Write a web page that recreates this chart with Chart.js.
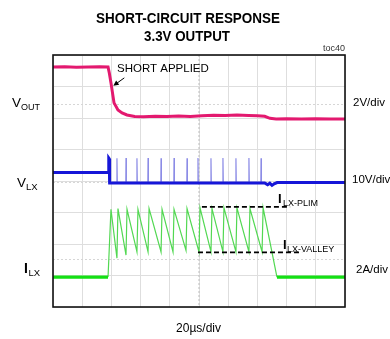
<!DOCTYPE html>
<html lang="en">
<head>
  <meta charset="UTF-8">
  <title>Short-Circuit Response</title>
  <script src="https://cdn.jsdelivr.net/npm/chart.js"></script>
  <style>
    body { margin: 0; background: #fff; }
    #scope { display: block; }
  </style>
</head>
<body>
  <canvas id="scope" width="390" height="339"></canvas>
  <script>
    // scope screen: 10 x 8 divisions, 20us/div
    const usPerDiv = 20;
    const timeDivs = 10;
    const vertDivs = 8;

    // VOUT (us, V)
    const voutTime  = [0, 8, 16, 24, 32, 37.7, 38.6, 39.7, 41.8, 44.5, 47.3, 50.7, 56, 62, 70, 78, 86, 94, 102, 110, 118, 126, 134, 140, 145, 148.6, 152.8, 160, 170, 180, 190, 200];
    const voutVolts = [3.30, 3.31, 3.29, 3.30, 3.31, 3.30, 2.90, 2.29, 1.02, 0.57, 0.38, 0.25, 0.16, 0.14, 0.17, 0.15, 0.18, 0.16, 0.20, 0.24, 0.22, 0.25, 0.22, 0.20, 0.17, 0.04, 0.0, 0.02, -0.01, 0.01, 0.0, 0.0];

    // LX node (us, V)
    const lxTime  = [0, 10, 20, 30, 37.8, 38.2, 38.5, 38.8, 50, 70, 90, 110, 130, 145, 147, 148.5, 150, 151.5, 153.5, 160, 180, 200];
    const lxVolts = [3.0, 3.0, 3.0, 3.0, 3.0, 7.6, 7.4, -0.3, -0.3, -0.3, -0.3, -0.3, -0.3, -0.3, -0.9, -0.4, -1.1, -0.6, -0.2, -0.2, -0.2, -0.2];
    const spikeTimes = [38.4, 43.8, 50.0, 57.5, 65.1, 74.0, 82.9, 91.8, 99.3, 108.2, 116.4, 125.3, 134.2, 142.5];
    const spikeTops  = [7.6, 7.5, 7.6, 7.5, 7.6, 7.5, 7.6, 7.5, 7.6, 7.5, 7.6, 7.5, 7.6, 7.5];
    const lxLow = -0.3;

    // inductor current (us, A)
    const shortStart = 37.7;
    const currentEnd = 153.4;
    const peakTimes  = [39.7, 44.5, 50.7, 58.2, 65.8, 74.7, 82.9, 91.8, 100.7, 108.9, 117.1, 126.0, 134.9, 143.9];
    const peakAmps   = [4.3, 4.35, 4.3, 4.3, 4.35, 4.3, 4.3, 4.35, 4.4, 4.35, 4.4, 4.4, 4.35, 4.4];
    const valleyAmps = [1.2, 1.4, 1.6, 1.6, 1.6, 1.6, 1.7, 1.6, 1.6, 1.6, 1.6, 1.6, 1.6];

    // current limit markers
    const plimLevel = 4.46;
    const plimSpan = [102, 162.4];
    const valleyLevel = 1.57;
    const valleySpan = [99.3, 170.6];

    // channel settings: units/div and ground position in divs from bottom
    const voutCh = { perDiv: 2, ground: 5.97 };
    const lxCh = { perDiv: 10, ground: 3.97 };
    const ilxCh = { perDiv: 2, ground: 0.95 };
    const refMarks = [6.45, 3.97, 1.52];

    const chRange = ch => ({ min: -ch.ground * ch.perDiv, max: (vertDivs - ch.ground) * ch.perDiv });
    const pts = (xs, ys) => xs.map((x, i) => ({ x: x, y: ys[i] }));

    // thin switching spikes on LX
    const spikeData = [];
    spikeTimes.forEach((t, i) => {
      spikeData.push({ x: t - 0.15, y: lxLow }, { x: t, y: spikeTops[i] }, { x: t + 0.25, y: lxLow });
    });

    // sawtooth between peak and valley during current limit
    const sawData = [{ x: shortStart, y: 0 }];
    peakTimes.forEach((t, i) => {
      sawData.push({ x: t, y: peakAmps[i] });
      if (i < valleyAmps.length) sawData.push({ x: peakTimes[i + 1] - 0.7, y: valleyAmps[i] });
    });
    sawData.push({ x: currentEnd, y: 0 });

    const offData = [{ x: 0, y: 0 }, { x: shortStart, y: 0 }, { x: shortStart, y: null },
                     { x: currentEnd, y: 0 }, { x: timeDivs * usPerDiv, y: 0 }];

    const FONT = "'Liberation Sans', Arial, sans-serif";

    function text(ctx, s, x, y, font, align, color, maxW) {
      ctx.font = font;
      ctx.textAlign = align || 'left';
      ctx.fillStyle = color || '#000';
      ctx.textBaseline = 'alphabetic';
      if (maxW) ctx.fillText(s, x, y, maxW);
      else ctx.fillText(s, x, y);
    }

    const screenDecor = {
      id: 'screenDecor',
      beforeDatasetsDraw(chart) {
        const { ctx, chartArea: a, scales } = chart;
        ctx.save();
        // center crosshair and channel markers
        ctx.strokeStyle = '#bdbdbd';
        ctx.lineWidth = 1;
        ctx.setLineDash([2, 2]);
        const cx = scales.x.getPixelForValue(timeDivs * usPerDiv / 2);
        ctx.beginPath();
        ctx.moveTo(cx, a.top); ctx.lineTo(cx, a.bottom);
        ctx.stroke();
        ctx.strokeStyle = '#d6d6d6';
        refMarks.forEach(d => {
          const y = Math.round(scales.grid.getPixelForValue(d)) + 0.5;
          ctx.beginPath();
          ctx.moveTo(a.left, y); ctx.lineTo(a.right, y);
          ctx.stroke();
        });
        ctx.restore();
      },
      afterDraw(chart) {
        const { ctx, chartArea: a, scales } = chart;
        ctx.save();
        ctx.strokeStyle = '#111';
        ctx.lineWidth = 1.6;
        ctx.strokeRect(a.left, a.top, a.right - a.left, a.bottom - a.top);

        // title, condensed to the narrow face width
        const tf = 'bold 15.5px ' + FONT;
        text(ctx, 'SHORT-CIRCUIT RESPONSE', 188, 23, tf, 'center', '#000', 184);
        text(ctx, '3.3V OUTPUT', 187, 41, tf, 'center', '#000', 86);
        text(ctx, 'toc40', 345, 51, '9px ' + FONT, 'right', '#333');

        // channel names
        text(ctx, 'V', 12, 107, '13.5px ' + FONT);
        text(ctx, 'OUT', 21, 110, '9px ' + FONT);
        text(ctx, 'V', 17, 187, '13.5px ' + FONT);
        text(ctx, 'LX', 26, 190, '9.5px ' + FONT);
        text(ctx, 'I', 24, 273, 'bold 14px ' + FONT);
        text(ctx, 'LX', 28.5, 276, '9.5px ' + FONT);

        // scale factors
        text(ctx, '2V/div', 353, 106, '11.5px ' + FONT);
        text(ctx, '10V/div', 352, 183, '11.5px ' + FONT);
        text(ctx, '2A/div', 356, 273, '11.5px ' + FONT);
        text(ctx, '20\u00b5s/div', 198.5, 332, '12px ' + FONT, 'center');

        // limit labels
        text(ctx, 'I', 278, 203, 'bold 13px ' + FONT);
        text(ctx, 'LX-PLIM', 283, 206, '9px ' + FONT);
        text(ctx, 'I', 283, 249, 'bold 13px ' + FONT);
        text(ctx, 'LX-VALLEY', 287, 252, '9px ' + FONT);

        // short applied annotation with arrow onto VOUT edge
        text(ctx, 'SHORT APPLIED', 117, 72, '11.5px ' + FONT);
        const tx = scales.x.getPixelForValue(41.3);
        const ty = scales.yV.getPixelForValue(2.1);
        const sx = tx + 11, sy = ty - 8;
        ctx.strokeStyle = '#000';
        ctx.fillStyle = '#000';
        ctx.lineWidth = 1;
        ctx.beginPath();
        ctx.moveTo(sx, sy); ctx.lineTo(tx + 2, ty - 1.5);
        ctx.stroke();
        const ang = Math.atan2(ty - sy, tx - sx);
        ctx.beginPath();
        ctx.moveTo(tx, ty);
        ctx.lineTo(tx - 6 * Math.cos(ang - 0.45), ty - 6 * Math.sin(ang - 0.45));
        ctx.lineTo(tx - 6 * Math.cos(ang + 0.45), ty - 6 * Math.sin(ang + 0.45));
        ctx.closePath();
        ctx.fill();
        ctx.restore();
      }
    };

    const line = (data, axis, color, width, extra) => Object.assign({
      data: data, yAxisID: axis, borderColor: color, borderWidth: width,
      pointRadius: 0, tension: 0, fill: false, spanGaps: false
    }, extra || {});

    new Chart(document.getElementById('scope'), {
      type: 'line',
      data: {
        datasets: [
          line([{ x: plimSpan[0], y: plimLevel }, { x: plimSpan[1], y: plimLevel }], 'yI', '#000', 1.6, { borderDash: [5, 3] }),
          line([{ x: valleySpan[0], y: valleyLevel }, { x: valleySpan[1], y: valleyLevel }], 'yI', '#000', 1.6, { borderDash: [5, 3] }),
          line(pts(voutTime, voutVolts), 'yV', '#e3196f', 3),
          line(pts(lxTime, lxVolts), 'yLX', '#1616d8', 3),
          line(offData, 'yI', '#14e014', 3.2),
          line(spikeData, 'yLX', '#8c8ce6', 1.2),
          line(sawData, 'yI', '#52d852', 1.2)
        ]
      },
      options: {
        responsive: false,
        animation: false,
        events: [],
        layout: { padding: { left: 53, top: 55, right: 45, bottom: 32 } },
        plugins: { legend: { display: false }, tooltip: { enabled: false } },
        scales: {
          x: {
            type: 'linear', min: 0, max: timeDivs * usPerDiv,
            ticks: { display: false, stepSize: usPerDiv },
            grid: { color: '#dedede', drawTicks: false, lineWidth: 1 },
            border: { display: false }
          },
          grid: {
            type: 'linear', position: 'left', min: 0, max: vertDivs,
            ticks: { display: false, stepSize: 1 },
            grid: { color: '#dedede', drawTicks: false, lineWidth: 1 },
            border: { display: false }
          },
          yV: Object.assign({ type: 'linear', display: false }, chRange(voutCh)),
          yLX: Object.assign({ type: 'linear', display: false }, chRange(lxCh)),
          yI: Object.assign({ type: 'linear', display: false }, chRange(ilxCh))
        }
      },
      plugins: [screenDecor]
    });
  </script>
</body>
</html>
